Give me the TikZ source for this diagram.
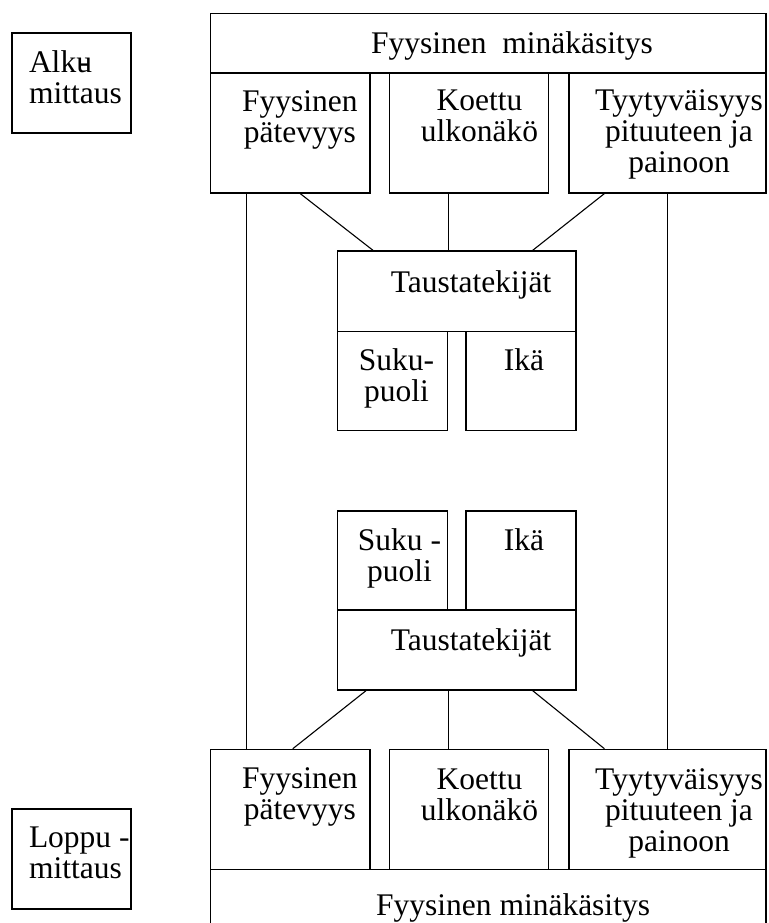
\documentclass[tikz,border=0pt]{standalone}
\usepackage{fontspec}
\setmainfont{Liberation Serif}
\usetikzlibrary{positioning}

\begin{document}
\begin{tikzpicture}[x=1pt,y=-1pt,line width=1.1pt,
  font=\fontsize{31.5}{31}\selectfont]
  \tikzstyle{box}=[draw,rectangle,inner sep=0pt]
  \tikzstyle{txt}=[inner sep=0pt,align=center]

  \useasboundingbox (0,0) rectangle (768,923);
  \clip (0,0) rectangle (768,923);

  % alkumittaus
  \node[box,minimum width=119pt,minimum height=100pt]   (alku) at (71.5,83) {};
  \node[box,minimum width=555.3pt,minimum height=59.7pt] (hdr1) at (488.35,43.15) {};
  \node[box,minimum width=159.3pt,minimum height=120pt] (fp1) at (290.35,133) {};
  \node[box,minimum width=159pt,minimum height=120pt]   (ku1) at (468.8,133) {};
  \node[box,minimum width=197pt,minimum height=120pt]   (tp1) at (667.5,133) {};
  \node[box,minimum width=238.3pt,minimum height=80.7pt] (ta1) at (456.85,291.35) {};
  \node[box,minimum width=110pt,minimum height=99pt]    (sp1) at (392.7,381.2) {};
  \node[box,minimum width=110pt,minimum height=99pt]    (ik1) at (521,381.2) {};

  \node[txt,align=left,below right=18pt and 17pt of alku.north west] (alkut) {Alku\kern-.42em-\\mittaus};
  \node[txt,below=18.7pt of hdr1.north,xshift=23.7pt] (hdr1t) {Fyysinen\ \ minäkäsitys};
  \node[txt,below=18pt of fp1.north,xshift=9.6pt]     (fp1t) {Fyysinen\\pätevyys};
  \node[txt,below=17pt of ku1.north,xshift=10.7pt]    (ku1t) {Koettu\\ulkonäkö};
  \node[txt,below=17pt of tp1.north,xshift=11.5pt]    (tp1t) {Tyytyväisyys\\pituuteen ja\\painoon};
  \node[txt,below=19.7pt of ta1.north,xshift=14.2pt]  (ta1t) {Taustatekijät};
  \node[txt,below=17.3pt of sp1.north,xshift=3.8pt]   (sp1t) {Suku-\\puoli};
  \node[txt,below=17.3pt of ik1.north,xshift=3pt]     (ik1t) {Ikä};

  % loppumittaus
  \node[box,minimum width=110pt,minimum height=99pt]    (sp2) at (392.7,560.5) {};
  \node[box,minimum width=110pt,minimum height=99pt]    (ik2) at (521,560.5) {};
  \node[box,minimum width=238.3pt,minimum height=80pt]  (ta2) at (456.85,650) {};
  \node[box,minimum width=159.3pt,minimum height=120pt] (fp2) at (290.35,809.3) {};
  \node[box,minimum width=159pt,minimum height=120pt]   (ku2) at (468.8,809.3) {};
  \node[box,minimum width=197pt,minimum height=120pt]   (tp2) at (667.5,809.3) {};
  \node[box,minimum width=555.3pt,minimum height=60pt]  (hdr2) at (488.35,899.3) {};
  \node[box,minimum width=119pt,minimum height=100pt]   (loppu) at (71.5,859) {};

  \node[txt,below=18pt of sp2.north,xshift=6.8pt]     (sp2t) {Suku -\\puoli};
  \node[txt,below=18pt of ik2.north,xshift=3pt]       (ik2t) {Ikä};
  \node[txt,below=19pt of ta2.north,xshift=14.2pt]    (ta2t) {Taustatekijät};
  \node[txt,below=18.7pt of fp2.north,xshift=9.6pt]   (fp2t) {Fyysinen\\pätevyys};
  \node[txt,below=19.7pt of ku2.north,xshift=10.7pt]  (ku2t) {Koettu\\ulkonäkö};
  \node[txt,below=19.7pt of tp2.north,xshift=11.5pt]  (tp2t) {Tyytyväisyys\\pituuteen ja\\painoon};
  \node[txt,below=24.7pt of hdr2.north,xshift=24.7pt] (hdr2t) {Fyysinen minäkäsitys};
  \node[txt,align=left,below right=18pt and 17pt of loppu.north west] (loppt) {Loppu -\\mittaus};

  % yhteydet
  \draw ([xshift=36pt]fp1.south west) -- ([xshift=36pt]fp2.north west);
  \draw (tp1.south) -- (tp2.north);
  \draw ([xshift=90pt]fp1.south west) -- ([xshift=36pt]ta1.north west);
  \draw (ku1.south -| sp1.north east) -- (ta1.north -| sp1.north east);
  \draw ([xshift=36pt]tp1.south west) -- ([xshift=-44pt]ta1.north east);
  \draw ([xshift=29pt]ta2.south west) -- ([xshift=82.6pt]fp2.north west);
  \draw (ta2.south -| sp2.south east) -- (ku2.north -| sp2.south east);
  \draw ([xshift=-44pt]ta2.south east) -- ([xshift=36pt]tp2.north west);
\end{tikzpicture}
\end{document}
